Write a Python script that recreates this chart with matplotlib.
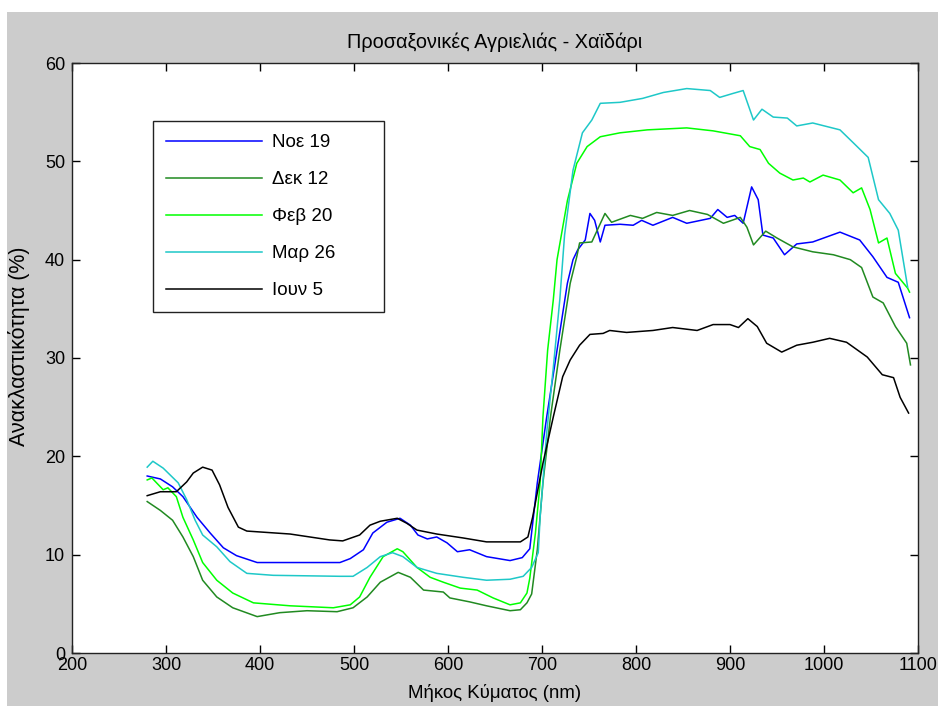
import matplotlib
matplotlib.use('Agg')
import matplotlib.pyplot as plt
from matplotlib.patches import Rectangle

plt.rcParams['font.family'] = ['Liberation Sans', 'DejaVu Sans']

# φάσματα ανακλαστικότητας ανά ημερομηνία (μήκος κύματος nm, ανακλαστικότητα %)
wl_noe = [280, 294, 307, 318, 333, 347, 361, 375, 397, 485, 496, 510, 520, 535, 549, 560,
          568, 578, 588, 599, 610, 623, 641, 666, 679, 687, 695, 705, 716, 727, 733, 738,
          746, 751, 756, 762, 767, 783, 797, 806, 818, 839, 854, 879, 887, 897, 905, 914,
          923, 930, 935, 946, 958, 971, 988, 1017, 1038, 1052, 1067, 1079, 1091]
r_noe = [18.0, 17.7, 16.9, 15.9, 13.8, 12.2, 10.7, 9.9, 9.2, 9.2, 9.6, 10.5, 12.2, 13.3, 13.7, 13.0,
         12.0, 11.6, 11.8, 11.2, 10.3, 10.5, 9.8, 9.4, 9.7, 10.6, 17.3, 24.0, 30.8, 37.6, 40.0, 41.0,
         42.0, 44.7, 44.0, 41.8, 43.5, 43.6, 43.5, 44.0, 43.5, 44.3, 43.7, 44.2, 45.1, 44.3, 44.5, 43.7,
         47.4, 46.1, 42.5, 42.2, 40.5, 41.6, 41.8, 42.8, 42.0, 40.3, 38.2, 37.7, 34.1]

wl_dek = [280, 294, 307, 318, 329, 339, 354, 371, 397, 421, 450, 482, 499, 514, 528, 547,
          560, 574, 595, 602, 623, 641, 666, 677, 684, 689, 695, 701, 709, 719, 730, 737,
          740, 753, 767, 774, 794, 807, 822, 839, 857, 876, 893, 911, 918, 925, 938, 950,
          967, 988, 1010, 1028, 1040, 1052, 1063, 1076, 1088, 1092]
r_dek = [15.4, 14.5, 13.5, 11.8, 9.8, 7.4, 5.7, 4.6, 3.7, 4.1, 4.3, 4.2, 4.6, 5.7, 7.2, 8.2,
         7.7, 6.4, 6.2, 5.6, 5.2, 4.8, 4.3, 4.4, 5.1, 6.0, 10.5, 17.3, 24.0, 30.8, 37.6, 40.3,
         41.7, 41.8, 44.7, 43.8, 44.5, 44.2, 44.8, 44.5, 45.0, 44.6, 43.7, 44.3, 43.3, 41.5, 42.9, 42.2,
         41.3, 40.8, 40.5, 40.0, 39.2, 36.2, 35.6, 33.2, 31.5, 29.3]

wl_feb = [280, 285, 297, 302, 311, 318, 329, 339, 354, 371, 393, 432, 478, 496, 506, 517,
          531, 546, 552, 567, 581, 595, 613, 631, 648, 666, 677, 684, 687, 693, 698, 701,
          706, 712, 716, 727, 737, 748, 762, 783, 812, 854, 882, 911, 921, 932, 941, 953,
          967, 978, 985, 999, 1017, 1031, 1040, 1049, 1058, 1067, 1076, 1089, 1091]
r_feb = [17.6, 17.8, 16.6, 16.8, 15.9, 13.8, 11.5, 9.2, 7.4, 6.1, 5.1, 4.8, 4.6, 4.9, 5.7, 7.7,
         9.8, 10.6, 10.3, 8.7, 7.7, 7.2, 6.6, 6.4, 5.6, 4.9, 5.1, 6.1, 7.6, 12.2, 17.3, 24.0,
         30.8, 35.9, 40.0, 46.0, 49.8, 51.5, 52.5, 52.9, 53.2, 53.4, 53.1, 52.6, 51.5, 51.2, 49.8, 48.8,
         48.1, 48.3, 47.9, 48.6, 48.1, 46.8, 47.3, 45.1, 41.7, 42.2, 38.6, 37.1, 36.7]

wl_mar = [280, 286, 297, 313, 322, 331, 339, 354, 368, 386, 414, 485, 499, 514, 528, 541,
          552, 567, 588, 616, 641, 666, 680, 689, 696, 698, 705, 712, 719, 724, 733, 743,
          753, 762, 783, 807, 829, 854, 879, 889, 903, 914, 925, 934, 946, 961, 971, 988,
          1017, 1031, 1047, 1058, 1070, 1079, 1089]
r_mar = [18.9, 19.5, 18.8, 17.3, 15.6, 13.5, 12.0, 10.8, 9.3, 8.1, 7.9, 7.8, 7.8, 8.7, 9.8, 10.2,
         9.8, 8.7, 8.1, 7.7, 7.4, 7.5, 7.8, 8.7, 10.2, 13.8, 22.4, 29.0, 36.0, 42.5, 49.1, 52.9,
         54.2, 55.9, 56.0, 56.4, 57.0, 57.4, 57.2, 56.5, 56.9, 57.2, 54.2, 55.3, 54.5, 54.4, 53.6, 53.9,
         53.2, 51.9, 50.4, 46.1, 44.7, 43.0, 37.2]

wl_iou = [280, 294, 311, 322, 329, 339, 349, 357, 366, 377, 386, 432, 474, 488, 506, 517,
          528, 546, 556, 567, 588, 616, 641, 677, 685, 690, 701, 712, 722, 730, 740, 751,
          765, 772, 790, 818, 839, 865, 882, 900, 909, 919, 929, 939, 955, 971, 988, 1006,
          1024, 1046, 1062, 1074, 1081, 1090]
r_iou = [16.0, 16.4, 16.4, 17.4, 18.3, 18.9, 18.6, 17.1, 14.8, 12.8, 12.4, 12.1, 11.5, 11.4, 12.0, 13.0,
         13.4, 13.7, 13.2, 12.5, 12.1, 11.7, 11.3, 11.3, 11.8, 13.8, 19.3, 24.0, 28.1, 29.8, 31.3, 32.4,
         32.5, 32.8, 32.6, 32.8, 33.1, 32.8, 33.4, 33.4, 33.1, 34.0, 33.2, 31.5, 30.6, 31.3, 31.6, 32.0,
         31.6, 30.1, 28.3, 28.0, 26.0, 24.4]

labels = ['Νοε 19', 'Δεκ 12', 'Φεβ 20', 'Μαρ 26', 'Ιουν 5']
colors = ['#0000ff', '#218a21', '#00ff00', '#1ec8c8', '#000000']
series = [(wl_noe, r_noe), (wl_dek, r_dek), (wl_feb, r_feb), (wl_mar, r_mar), (wl_iou, r_iou)]

W, H = 938, 706
fig = plt.figure(figsize=(W / 100, H / 100), dpi=100, facecolor='white')
# γκρι φόντο παραθύρου
fig.add_artist(Rectangle((7 / W, 0), 1, (H - 12) / H, transform=fig.transFigure,
                         facecolor='#cccccc', edgecolor='none', zorder=-1))

ax = fig.add_axes([72 / W, 53 / H, 846 / W, 590 / H])
ax.set_facecolor('white')

for (x, y), c, lab in zip(series, colors, labels):
    ax.plot(x, y, color=c, lw=1.1, label=lab)

ax.set_xlim(200, 1100)
ax.set_ylim(0, 60)
ax.set_xticks(range(200, 1101, 100))
ax.set_yticks(range(0, 61, 10))
ax.tick_params(direction='in', top=True, right=True, length=6, width=1, labelsize=13)
ax.tick_params(axis='x', pad=3)
ax.tick_params(axis='y', pad=5)
for s in ax.spines.values():
    s.set_linewidth(1)
    s.set_color('#222222')

ax.set_title('Προσαξονικές Αγριελιάς - Χαϊδάρι', fontsize=14.3, pad=11)
ax.set_xlabel('Μήκος Κύματος (nm)', fontsize=13.4)
ax.xaxis.set_label_coords(0.5, -0.052)
ax.set_ylabel('Ανακλαστικότητα (%)', fontsize=15.5)
ax.yaxis.set_label_coords(-0.05, 0.52)

leg = ax.legend(loc='upper left', bbox_to_anchor=(81 / 846, 0.5, 231 / 846, 532 / 590 - 0.5),
                mode='expand', borderaxespad=0, fontsize=13.5, handlelength=5.1,
                handletextpad=0.55, labelspacing=1.06, borderpad=0.7,
                fancybox=False, framealpha=1, edgecolor='#222222')
leg.get_frame().set_linewidth(1)

fig.savefig('out.png', dpi=100, facecolor=fig.get_facecolor())
